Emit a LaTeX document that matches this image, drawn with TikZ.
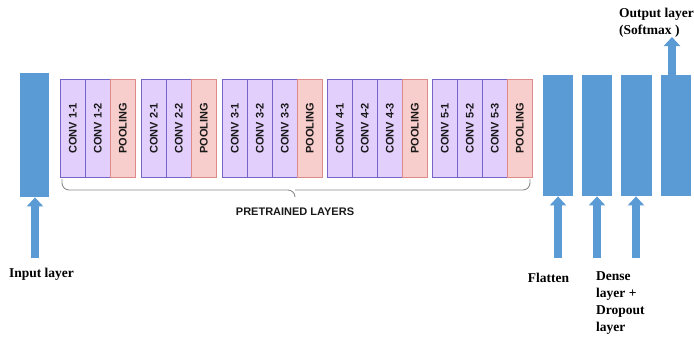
\documentclass[tikz,border=0pt]{standalone}
\usepackage{fontspec}
\setmainfont{Liberation Serif}
\setsansfont{Liberation Sans}
\usetikzlibrary{arrows.meta,positioning}
\definecolor{lblue}{HTML}{5B9BD5}
\definecolor{convfill}{HTML}{E2CFFB}
\definecolor{convdraw}{HTML}{7565C8}
\definecolor{poolfill}{HTML}{F8CECC}
\definecolor{pooldraw}{HTML}{DE8A88}
\definecolor{bracegray}{HTML}{8C8C8C}
\tikzset{
  cell/.style={draw, line width=0.8pt, minimum width=25pt, minimum height=98pt, inner sep=0pt, anchor=north west,
    font=\sffamily\bfseries\fontsize{11}{12}\selectfont, text=black!90},
  conv/.style={cell, fill=convfill, draw=convdraw},
  pool/.style={cell, fill=poolfill, draw=pooldraw},
  layerbox/.style={fill=lblue, draw=none, inner sep=0pt, anchor=north west},
  bigarrow/.style={draw=lblue, line width=8pt, -{Triangle[width=16pt,length=9pt]}},
  lbl/.style={font=\bfseries\fontsize{13.5}{17}\selectfont, inner sep=0pt, text=black},
}
\begin{document}
\begin{tikzpicture}[x=1pt,y=-1pt]
\useasboundingbox (0,0) rectangle (694,341);
% input layer
\node[layerbox, minimum width=29pt, minimum height=124pt] (inp) at (20,73) {};
% block 1
\node[conv] (c11) at (60,79) {\rotatebox{90}{CONV 1-1}};
\node[conv] (c12) at (85,79) {\rotatebox{90}{CONV 1-2}};
\node[pool] (p1) at (110,79) {\rotatebox{90}{POOLING}};
% block 2
\node[conv] (c21) at (141,79) {\rotatebox{90}{CONV 2-1}};
\node[conv] (c22) at (166,79) {\rotatebox{90}{CONV 2-2}};
\node[pool] (p2) at (191,79) {\rotatebox{90}{POOLING}};
% block 3
\node[conv] (c31) at (222,79) {\rotatebox{90}{CONV 3-1}};
\node[conv] (c32) at (247,79) {\rotatebox{90}{CONV 3-2}};
\node[conv] (c33) at (272,79) {\rotatebox{90}{CONV 3-3}};
\node[pool] (p3) at (297,79) {\rotatebox{90}{POOLING}};
% block 4
\node[conv] (c41) at (327,79) {\rotatebox{90}{CONV 4-1}};
\node[conv] (c42) at (352,79) {\rotatebox{90}{CONV 4-2}};
\node[conv] (c43) at (377,79) {\rotatebox{90}{CONV 4-3}};
\node[pool] (p4) at (402,79) {\rotatebox{90}{POOLING}};
% block 5
\node[conv] (c51) at (432,79) {\rotatebox{90}{CONV 5-1}};
\node[conv] (c52) at (457,79) {\rotatebox{90}{CONV 5-2}};
\node[conv] (c53) at (482,79) {\rotatebox{90}{CONV 5-3}};
\node[pool] (p5) at (507,79) {\rotatebox{90}{POOLING}};
% brace
\draw[bracegray, line width=0.9pt, rounded corners=7pt]
  (62,179) |- (295,190) -- (295,197);
\draw[bracegray, line width=0.9pt, rounded corners=7pt]
  (295,190) -| (530,179);
\node[font=\sffamily\bfseries\fontsize{11}{12}\selectfont, text=black!90] (pre) at (295,212) {PRETRAINED LAYERS};
% right layers
\node[layerbox, minimum width=30pt, minimum height=121pt] (fl) at (543,75) {};
\node[layerbox, minimum width=30pt, minimum height=121pt] (de) at (582,75) {};
\node[layerbox, minimum width=31pt, minimum height=121pt] (dr) at (621,75) {};
\node[layerbox, minimum width=30pt, minimum height=121pt] (out) at (661,75) {};
% arrows
\coordinate (ainp) at (35,258);
\coordinate (afl) at (558,258);
\coordinate (ade) at (597,258);
\coordinate (adr) at (636,258);
\coordinate (aout) at (672,37);
\draw[bigarrow] (ainp) -- (ainp |- inp.south);
\draw[bigarrow] (afl) -- (afl |- fl.south);
\draw[bigarrow] (ade) -- (ade |- de.south);
\draw[bigarrow] (adr) -- (adr |- dr.south);
\draw[bigarrow] (aout |- out.north) -- (aout);
% labels
\node[lbl] (tinp) at (41.5,274) {Input layer};
\node[lbl] (tfl) at (548.5,278) {Flatten};
\node[lbl, align=left, anchor=north west] (tde) at (596,271) {Dense\\layer +\\Dropout\\layer};
\node[lbl, align=left, anchor=north west] (tout) at (619,8) {Output layer\\(Softmax )};
\end{tikzpicture}
\end{document}
